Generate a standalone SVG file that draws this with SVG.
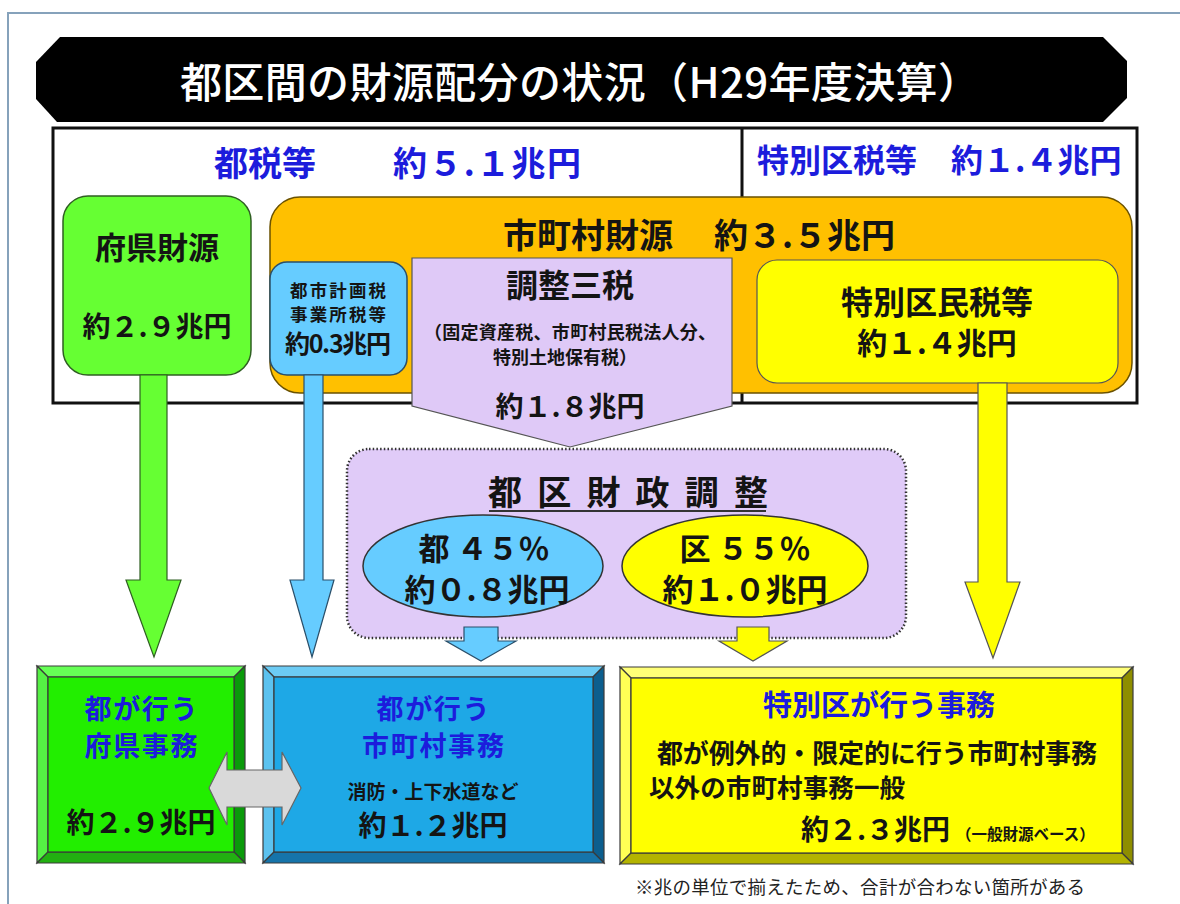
<svg xmlns="http://www.w3.org/2000/svg" width="1180" height="904" viewBox="0 0 1180 904">
<style>
text{font-family:"Noto Sans CJK JP","Noto Sans CJK SC",sans-serif;font-weight:700;fill:#141414}
.blue{fill:#1c1cdc}
.wht{fill:#ffffff;font-weight:500}
.reg{font-weight:400;fill:#222}
.mid{text-anchor:middle}
.ln{stroke:#3a3a3a;stroke-width:1.2}
</style>
<rect x="0" y="0" width="1180" height="904" fill="#ffffff"/>
<rect x="8" y="13" width="1190" height="900" fill="#ffffff" stroke="#86a2bb" stroke-width="2"/>

<g id="title">
<path d="M60,37 H1103 L1127,61 V98 L1103,122 H57 L36,99 V62 Z" fill="#000000"/>
<text x="180" y="98" class="wht" font-size="42" textLength="800">都区間の財源配分の状況（H29年度決算）</text>
</g>

<g id="tax-box">
<rect x="53" y="128" width="1084" height="275" fill="#ffffff" stroke="#111" stroke-width="3"/>
<line x1="742" y1="128" x2="742" y2="403" stroke="#111" stroke-width="3"/>
<text x="214" y="176" class="blue" font-size="34">都税等</text>
<text x="393" y="176" class="blue" font-size="34" textLength="188">約５.１兆円</text>
<text x="757" y="172" class="blue" font-size="32">特別区税等</text>
<text x="951" y="172" class="blue" font-size="32">約１.４兆円</text>
</g>

<g id="prefecture-source">
<rect x="63" y="196" width="188" height="179" rx="25" fill="#66ff33" stroke="#2f5f22" stroke-width="1.5"/>
<text x="157" y="259" class="mid" font-size="31">府県財源</text>
<text x="157" y="337" class="mid" font-size="28">約２.９兆円</text>
</g>

<g id="municipal-source">
<rect x="270" y="197" width="862" height="196" rx="30" fill="#ffc000" stroke="#6b5200" stroke-width="1.5"/>
<text x="503" y="248" font-size="34">市町村財源</text>
<text x="714" y="248" font-size="34">約３.５兆円</text>
</g>

<g id="city-planning-tax">
<rect x="270" y="262" width="137" height="113" rx="17" fill="#66ccff" stroke="#2a4f6a" stroke-width="1.5"/>
<text x="338" y="297" class="mid" font-size="17.5" textLength="96">都市計画税</text>
<text x="338" y="321" class="mid" font-size="17.5" textLength="96">事業所税等</text>
<text x="285" y="353" font-size="25" textLength="106">約0.3兆円</text>
</g>

<g id="adjust-three-taxes">
<polygon points="412,258 732,258 732,406 570,447 412,406" fill="#dfc9f7" stroke="#555" stroke-width="1.2"/>
<text x="570" y="297" class="mid" font-size="32">調整三税</text>
<text x="424" y="339" font-size="18" textLength="292">（固定資産税、市町村民税法人分、</text>
<text x="493" y="364" font-size="18">特別土地保有税）</text>
<text x="570" y="417" class="mid" font-size="28">約１.８兆円</text>
</g>

<g id="ward-tax">
<rect x="757" y="260" width="361" height="123" rx="20" fill="#ffff00" stroke="#555" stroke-width="1.2"/>
<text x="937" y="314" class="mid" font-size="32">特別区民税等</text>
<text x="937" y="354" class="mid" font-size="30">約１.４兆円</text>
</g>

<g id="connectors">
<polygon points="140,375 167,375 167,580 181,580 154,657 126,580 140,580" fill="#66ff33" stroke="#2f5f22" stroke-width="1.2"/>
<polygon points="304,375 323,375 323,580 334,580 312,657 290,580 304,580" fill="#66ccff" stroke="#2a4f6a" stroke-width="1.2"/>
<polygon points="978,383 1007,383 1007,582 1020,582 993,658 965,582 978,582" fill="#ffff00" stroke="#555" stroke-width="1.2"/>
</g>

<g id="adjustment">
<rect x="347" y="449" width="559" height="189" rx="22" fill="#e0cbf8" stroke="#333" stroke-width="2.5" stroke-dasharray="1.5 2.2"/>
<text x="488" y="505" font-size="34" textLength="280">都区財政調整</text>
<line x1="489" y1="511" x2="766" y2="511" stroke="#333" stroke-width="2"/>
<ellipse cx="483" cy="566" rx="120" ry="51" fill="#66ccff" stroke="#333" stroke-width="1.5"/>
<text x="484" y="560" class="mid" font-size="31">都 ４５％</text>
<text x="487" y="601" class="mid" font-size="31">約０.８兆円</text>
<ellipse cx="745" cy="566" rx="123" ry="51" fill="#ffff00" stroke="#333" stroke-width="1.5"/>
<text x="745" y="560" class="mid" font-size="31">区 ５５％</text>
<text x="745" y="601" class="mid" font-size="31">約１.０兆円</text>
</g>

<g id="small-arrows">
<polygon points="464,627 498,627 498,641 516,641 481,661 446,641 464,641" fill="#66ccff" stroke="#2a4f6a" stroke-width="1.2"/>
<polygon points="737,627 769,627 769,641 787,641 753,661 719,641 737,641" fill="#ffff00" stroke="#555" stroke-width="1.2"/>
</g>

<g id="pref-affairs">
<polygon points="37,666 245,666 234,677 48,677" fill="#66ff55" class="ln"/>
<polygon points="37,666 48,677 48,852 37,863" fill="#55f044" class="ln"/>
<polygon points="245,666 245,863 234,852 234,677" fill="#0a9a0a" class="ln"/>
<polygon points="37,863 245,863 234,852 48,852" fill="#22b011" class="ln"/>
<rect x="48" y="677" width="186" height="175" fill="#22ee00" class="ln"/>
<text x="141" y="719" class="mid blue" font-size="27" textLength="113">都が行う</text>
<text x="141" y="756" class="mid blue" font-size="27" textLength="113">府県事務</text>
<text x="141" y="833" class="mid" font-size="28">約２.９兆円</text>
</g>

<g id="muni-affairs">
<polygon points="263,666 604,666 593,677 274,677" fill="#6ccbf4" class="ln"/>
<polygon points="263,666 274,677 274,852 263,863" fill="#5cc2ef" class="ln"/>
<polygon points="604,666 604,863 593,852 593,677" fill="#0c5e8e" class="ln"/>
<polygon points="263,863 604,863 593,852 274,852" fill="#1674aa" class="ln"/>
<rect x="274" y="677" width="319" height="175" fill="#1ea8e6" class="ln"/>
<text x="433" y="719" class="mid blue" font-size="27" textLength="113">都が行う</text>
<text x="433" y="756" class="mid blue" font-size="27" textLength="142">市町村事務</text>
<text x="433" y="799" class="mid" font-size="19">消防・上下水道など</text>
<text x="433" y="836" class="mid" font-size="28">約１.２兆円</text>
</g>

<g id="ward-affairs">
<polygon points="620,667 1133,667 1122,678 631,678" fill="#ffff77" class="ln"/>
<polygon points="620,667 631,678 631,853 620,864" fill="#ffff55" class="ln"/>
<polygon points="1133,667 1133,864 1122,853 1122,678" fill="#8e8e00" class="ln"/>
<polygon points="620,864 1133,864 1122,853 631,853" fill="#b3b300" class="ln"/>
<rect x="631" y="678" width="491" height="175" fill="#ffff00" class="ln"/>
<text x="879" y="716" class="mid blue" font-size="29">特別区が行う事務</text>
<text x="657" y="763" font-size="26" textLength="440">都が例外的・限定的に行う市町村事務</text>
<text x="649" y="797" font-size="25.5" textLength="256">以外の市町村事務一般</text>
<text x="801" y="840" font-size="28">約２.３兆円</text>
<text x="956" y="840" font-size="15.5">（一般財源ベース）</text>
</g>

<g id="exchange-arrow">
<polygon points="209,788 227,752 227,770 282,770 282,752 301,788 282,825 282,807 227,807 227,825" fill="#d9d9d9" stroke="#666" stroke-width="1.2"/>
</g>

<g id="footnote">
<text x="635" y="894" class="reg" font-size="18.5" textLength="450">※兆の単位で揃えたため、合計が合わない箇所がある</text>
</g>
</svg>
